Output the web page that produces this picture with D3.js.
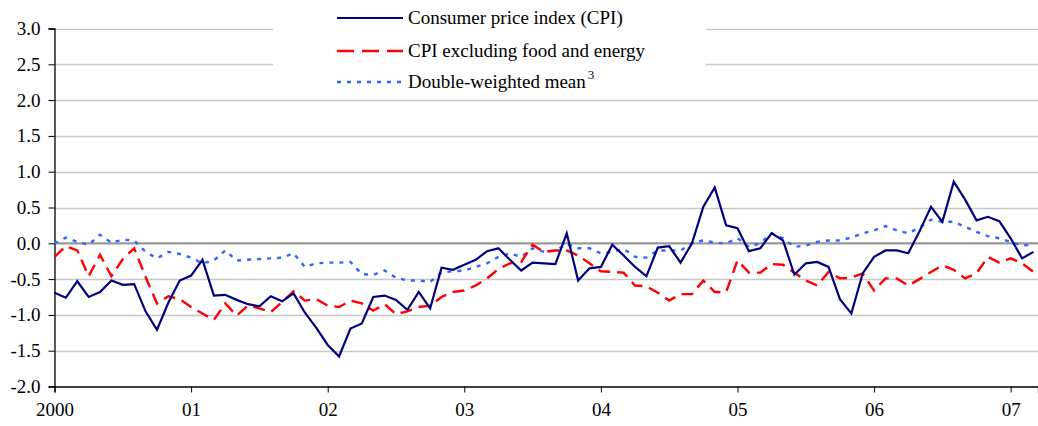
<!DOCTYPE html>
<html>
<head>
<meta charset="utf-8">
<script src="https://cdn.jsdelivr.net/npm/d3@7"></script>
<style>
  body { margin: 0; background: #fff; }
  svg { display: block; font-family: "Liberation Serif", "Times New Roman", serif; }
</style>
</head>
<body>
<svg width="1038" height="426"></svg>
<script>
// monthly, Jan 2000 .. Mar 2007
var cpi = [
  -0.69,-0.76,-0.53,-0.75,-0.68,-0.52,-0.58,-0.57,-0.95,-1.21,-0.83,-0.52,
  -0.45,-0.23,-0.73,-0.72,-0.79,-0.85,-0.88,-0.74,-0.81,-0.70,-0.97,-1.18,
  -1.42,-1.58,-1.19,-1.12,-0.75,-0.73,-0.79,-0.93,-0.68,-0.91,-0.34,-0.37,
  -0.30,-0.23,-0.11,-0.07,-0.23,-0.38,-0.27,-0.28,-0.29,0.14,-0.52,-0.35,
  -0.33,-0.02,-0.17,-0.33,-0.46,-0.06,-0.04,-0.27,0.00,0.51,0.78,0.25,
  0.21,-0.11,-0.07,0.14,0.04,-0.44,-0.28,-0.26,-0.33,-0.78,-0.98,-0.42,
  -0.19,-0.10,-0.10,-0.14,0.17,0.51,0.30,0.86,0.61,0.32,0.37,0.31,
  0.07,-0.21,-0.12
];
var cpiCore = [
  -0.19,-0.04,-0.10,-0.46,-0.16,-0.46,-0.22,-0.07,-0.47,-0.84,-0.74,-0.78,
  -0.89,-0.98,-1.07,-0.84,-1.01,-0.87,-0.91,-0.96,-0.82,-0.67,-0.80,-0.78,
  -0.87,-0.89,-0.80,-0.84,-0.94,-0.85,-0.99,-0.95,-0.89,-0.87,-0.75,-0.68,
  -0.66,-0.59,-0.49,-0.36,-0.28,-0.26,-0.02,-0.12,-0.10,-0.10,-0.17,-0.28,
  -0.39,-0.40,-0.41,-0.59,-0.60,-0.69,-0.80,-0.71,-0.71,-0.52,-0.68,-0.68,
  -0.24,-0.41,-0.41,-0.29,-0.30,-0.41,-0.52,-0.59,-0.40,-0.49,-0.48,-0.42,
  -0.66,-0.49,-0.49,-0.59,-0.50,-0.40,-0.31,-0.37,-0.49,-0.42,-0.19,-0.27,
  -0.21,-0.28,-0.40
];
var dwMean = [
  0.00,0.08,0.02,-0.02,0.12,0.01,0.05,0.04,-0.12,-0.21,-0.12,-0.15,
  -0.20,-0.28,-0.24,-0.10,-0.24,-0.23,-0.22,-0.21,-0.20,-0.14,-0.33,-0.28,
  -0.27,-0.27,-0.26,-0.43,-0.44,-0.38,-0.48,-0.52,-0.52,-0.54,-0.41,-0.39,
  -0.38,-0.33,-0.28,-0.19,-0.14,-0.19,-0.07,-0.12,-0.10,-0.01,-0.07,-0.07,
  -0.14,-0.12,-0.08,-0.19,-0.20,-0.10,-0.10,-0.10,0.00,0.04,0.01,0.00,
  0.07,-0.05,0.00,0.14,0.07,-0.05,-0.03,0.02,0.04,0.04,0.08,0.14,
  0.18,0.24,0.18,0.14,0.22,0.33,0.30,0.30,0.23,0.16,0.10,0.07,
  0.02,-0.03,-0.02
];
var yearTicks = [0, 12, 24, 36, 48, 60, 72, 84];
var yearLabels = ["2000", "01", "02", "03", "04", "05", "06", "07"];
var yTicks = [-2.0, -1.5, -1.0, -0.5, 0.0, 0.5, 1.0, 1.5, 2.0, 2.5, 3.0];
var seriesNames = ["Consumer price index (CPI)", "CPI excluding food and energy", "Double-weighted mean"];

var svg = d3.select("svg");
var plotLeft = 54.5, plotRight = 1038, plotTop = 28.5, plotBottom = 386.5;

var x = d3.scaleLinear().domain([0, 86.4]).range([plotLeft, plotRight]);
var y = d3.scaleLinear().domain([-2, 3]).range([plotBottom, plotTop]);

// gridlines
svg.append("g").selectAll("line")
  .data(yTicks.filter(function(d){ return d > -2 && d !== 0; }))
  .enter().append("line")
  .attr("x1", plotLeft).attr("x2", plotRight)
  .attr("y1", function(d){ return Math.round(y(d)) + 0.5; })
  .attr("y2", function(d){ return Math.round(y(d)) + 0.5; })
  .attr("stroke", "#c8c8c8").attr("stroke-width", 1.3);

// zero line
svg.append("line")
  .attr("x1", plotLeft).attr("x2", plotRight)
  .attr("y1", y(0)).attr("y2", y(0))
  .attr("stroke", "#999").attr("stroke-width", 2.2);

// y axis
var yAxis = svg.append("g")
  .attr("transform", "translate(" + plotLeft + ",0)")
  .call(d3.axisLeft(y).tickValues(yTicks).tickSize(6).tickPadding(8)
        .tickFormat(function(d){ return d3.format(".1f")(d).replace("−", "-"); }));
yAxis.selectAll("text").attr("font-size", "19px").attr("fill", "#000").attr("font-family", "Liberation Serif");
yAxis.select(".domain").attr("stroke", "#000").attr("stroke-width", 1.3);

// x axis
var xAxis = svg.append("g")
  .attr("transform", "translate(0," + plotBottom + ")")
  .call(d3.axisBottom(x).tickValues(yearTicks).tickSize(6).tickPadding(10)
        .tickFormat(function(d, i){ return yearLabels[i]; }));
xAxis.selectAll("text").attr("font-size", "19px").attr("fill", "#000").attr("font-family", "Liberation Serif");
xAxis.select(".domain").attr("stroke", "#000").attr("stroke-width", 1.3);

var line = d3.line()
  .x(function(d, i){ return x(i); })
  .y(function(d){ return y(d); });

var styles = [
  { data: cpi, color: "#000080", dash: null, width: 2.2 },
  { data: cpiCore, color: "#ff0000", dash: "12,7", width: 2.4 },
  { data: dwMean, color: "#3366ff", dash: "4,6", width: 2.4 }
];

svg.append("g").selectAll("path")
  .data(styles.slice().reverse())
  .enter().append("path")
  .attr("d", function(s){ return line(s.data); })
  .attr("fill", "none")
  .attr("stroke", function(s){ return s.color; })
  .attr("stroke-width", function(s){ return s.width; })
  .attr("stroke-dasharray", function(s){ return s.dash; });

// legend
var legend = svg.append("g");
legend.append("rect")
  .attr("x", 273).attr("y", 0).attr("width", 433).attr("height", 92)
  .attr("fill", "#fff");

var legendY = [18, 51, 82];
styles.forEach(function(s, i){
  legend.append("line")
    .attr("x1", 337).attr("x2", 403)
    .attr("y1", legendY[i]).attr("y2", legendY[i])
    .attr("stroke", s.color).attr("stroke-width", s.width)
    .attr("stroke-dasharray", i === 1 ? "17,8" : s.dash);
  var t = legend.append("text")
    .attr("x", 408).attr("y", legendY[i] + 6)
    .attr("font-size", "19px").attr("fill", "#000")
    .text(seriesNames[i]);
  if (i === 2) {
    t.append("tspan").attr("dx", 2).attr("dy", -9).attr("font-size", "13px").text("3");
  }
});
</script>
</body>
</html>
